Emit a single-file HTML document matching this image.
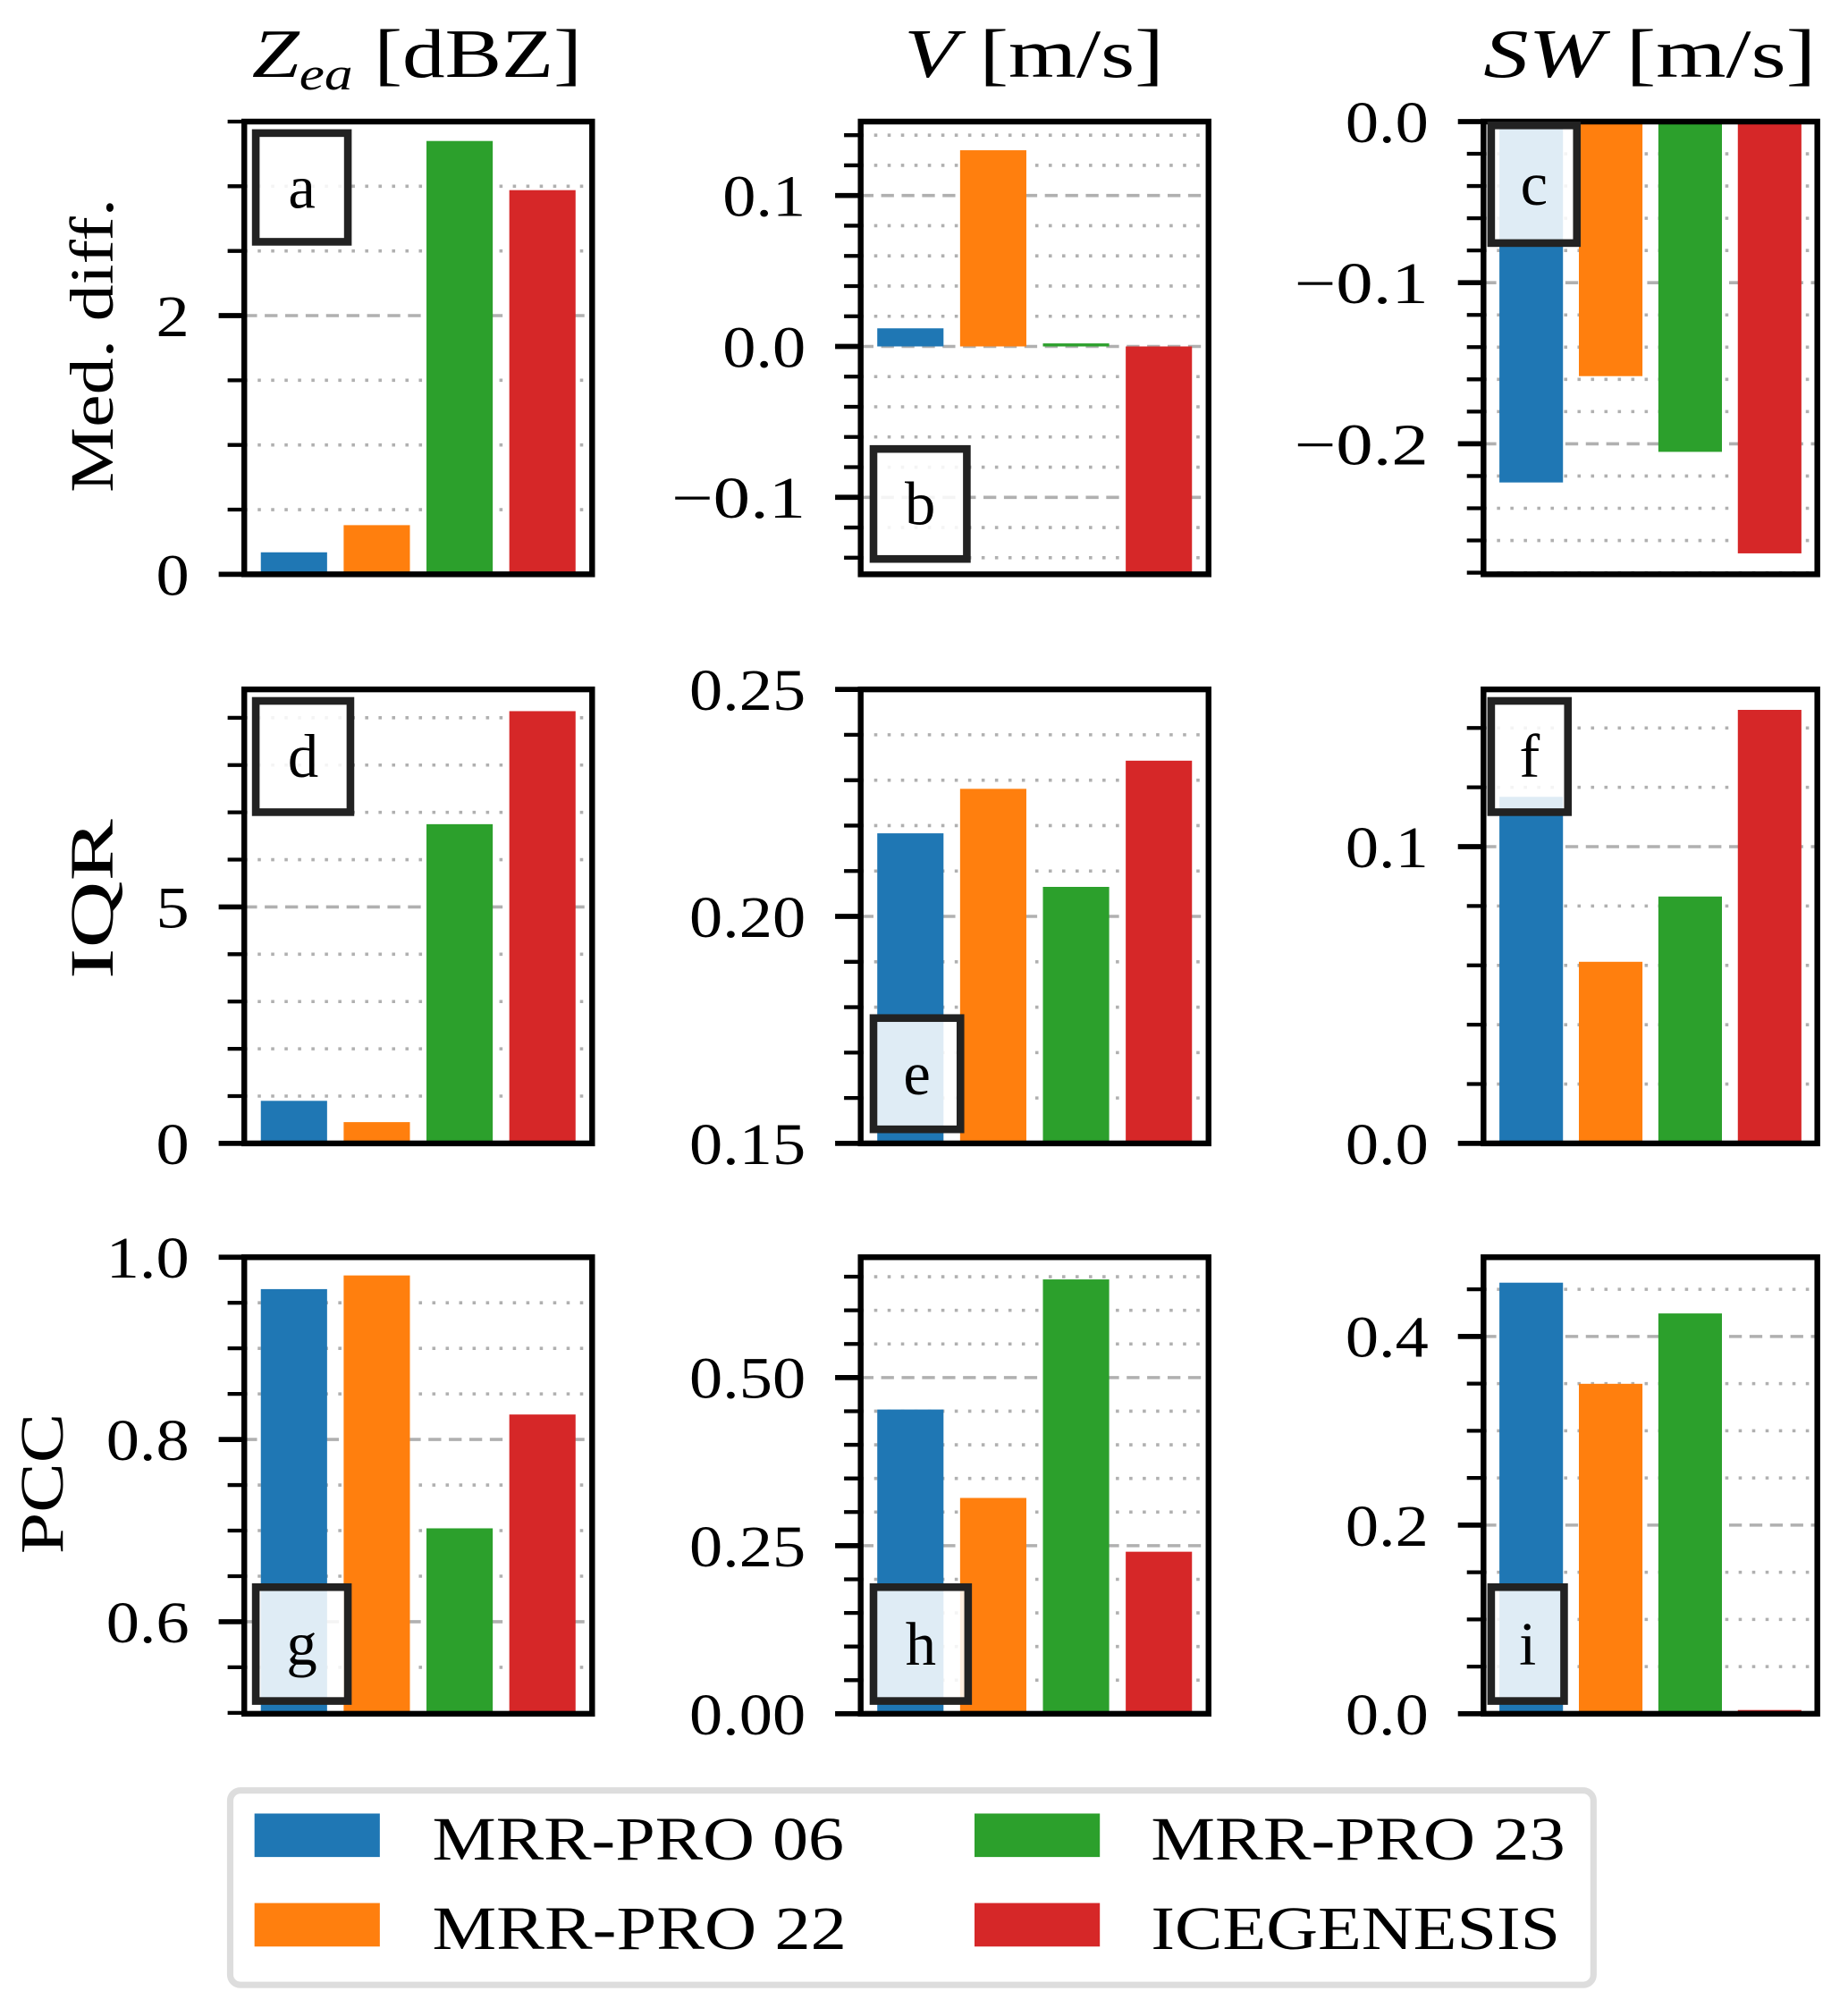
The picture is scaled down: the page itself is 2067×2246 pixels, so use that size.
<!DOCTYPE html>
<html><head><meta charset="utf-8"><style>
html,body{margin:0;padding:0;background:#fff}
svg{display:block}
text{font-family:"Liberation Serif","DejaVu Serif",serif;fill:#000}
</style></head><body>
<svg id="fig" width="2067" height="2246" viewBox="0 0 1445 1570" xmlns="http://www.w3.org/2000/svg">
<g>
<text x="197" y="60" font-size="54" textLength="258" lengthAdjust="spacingAndGlyphs"><tspan font-style="italic">Z</tspan><tspan font-style="italic" font-size="36" dy="10">ea</tspan><tspan dy="-10">  [dBZ]</tspan></text>
<text x="707" y="60" font-size="54" textLength="203" lengthAdjust="spacingAndGlyphs"><tspan font-style="italic">V</tspan>  [m/s]</text>
<text x="1160" y="60" font-size="54" textLength="260" lengthAdjust="spacingAndGlyphs"><tspan font-style="italic">SW</tspan>  [m/s]</text>
</g>
<text x="0" y="0" font-size="48" text-anchor="middle" textLength="230" lengthAdjust="spacingAndGlyphs" transform="translate(88,270) rotate(-90)">Med. diff.</text>
<text x="0" y="0" font-size="48" text-anchor="middle" textLength="125" lengthAdjust="spacingAndGlyphs" transform="translate(88,703) rotate(-90)">IQR</text>
<text x="0" y="0" font-size="48" text-anchor="middle" textLength="110" lengthAdjust="spacingAndGlyphs" transform="translate(49,1160) rotate(-90)">PCC</text>
<g id="panels"></g>
<g>
<rect x="180" y="1400" width="1066" height="152" rx="8" fill="#fff" stroke="#ddd" stroke-width="5"/>
<rect x="199" y="1418" width="98" height="34" fill="#1f77b4"/>
<text x="338" y="1454" font-size="48" textLength="322" lengthAdjust="spacingAndGlyphs">MRR-PRO 06</text>
<rect x="199" y="1488" width="98" height="34" fill="#ff7f0e"/>
<text x="338" y="1524" font-size="48" textLength="324" lengthAdjust="spacingAndGlyphs">MRR-PRO 22</text>
<rect x="762" y="1418" width="98" height="34" fill="#2ca02c"/>
<text x="900" y="1454" font-size="48" textLength="324" lengthAdjust="spacingAndGlyphs">MRR-PRO 23</text>
<rect x="762" y="1488" width="98" height="34" fill="#d62728"/>
<text x="900" y="1524" font-size="48" textLength="320" lengthAdjust="spacingAndGlyphs">ICEGENESIS</text>
</g>
</svg>
<script>
const categories = ["MRR-PRO 06", "MRR-PRO 22", "MRR-PRO 23", "ICEGENESIS"];
const colors = ["#1f77b4", "#ff7f0e", "#2ca02c", "#d62728"];
const panelLetters = ["a","b","c","d","e","f","g","h","i"];
const valsA = [0.17, 0.38, 3.35, 2.97];
const valsB = [0.012, 0.13, 0.002, -0.151];
const valsC = [-0.224, -0.158, -0.205, -0.268];
const valsD = [0.9, 0.45, 6.75, 9.14];
const valsE = [0.2183, 0.2281, 0.2065, 0.2343];
const valsF = [0.1168, 0.0612, 0.0832, 0.1461];
const valsG = [0.965, 0.980, 0.7025, 0.8274];
const valsH = [0.4525, 0.321, 0.646, 0.241];
const valsI = [0.457, 0.3498, 0.4244, 0.004];
const ylims = [[0,3.5],[-0.151,0.149],[-0.281,0],[0,9.6],[0.15,0.25],[0,0.153],[0.499,1.0],[0,0.679],[0,0.484]];
const majorSteps = [2,0.1,0.1,5,0.05,0.1,0.2,0.25,0.2];
const minorSteps = [0.5,0.02,0.02,1,0.01,0.02,0.05,0.05,0.05];
const tickDecimals = [0,1,1,0,2,1,1,2,1];
const allVals = [valsA,valsB,valsC,valsD,valsE,valsF,valsG,valsH,valsI];

const colX = [[191,463],[673,945],[1160,1421]];
const rowY = [[95,449],[539,894],[983,1340]];
const boxes = [[197,101,78,91],[680,348,79,92],[1163,95,73,98],[197,545,80,93],[680,793,74,93],[1163,545,66,93],[197,1238,78,95],[680,1238,80,95],[1163,1238,63,95]];
const NS="http://www.w3.org/2000/svg";
const root=document.getElementById('panels');
function mk(tag,attrs,parent){const e=document.createElementNS(NS,tag);for(const k in attrs)e.setAttribute(k,attrs[k]);parent.appendChild(e);return e;}
function fmt(v,d){let s=Math.abs(v).toFixed(d);return (v< -1e-9?"\u2212":"")+s;}
function labW(s){let w=0;for(const ch of s){w+= ch==='.'?13:(ch==='\u2212'?40:26);}return w;}

for(let p=0;p<9;p++){
  const c=p%3,r=Math.floor(p/3);
  const [x0,x1]=colX[c],[y0,y1]=rowY[r];
  const [lo,hi]=ylims[p];
  const yS=v=>y1-(v-lo)/(hi-lo)*(y1-y0);
  const step=(x1-x0)/4.2;
  const xS=i=>x0+(i+0.6)*step;
  const g=mk('g',{},root);
  
  
  const mn=minorSteps[p],mj=majorSteps[p];
  const kStart=Math.ceil(lo/mn-1e-6),kEnd=Math.floor(hi/mn+1e-6);
  for(let k=kStart;k<=kEnd;k++){
    const v=k*mn,y=yS(v);
    const isMajor=Math.abs(v/mj-Math.round(v/mj))<1e-6;
    const gl=mk('line',{x1:x0,x2:x1,y1:y,y2:y,stroke:'#b0b0b0','stroke-width':2.5,'stroke-dasharray':isMajor?'10,6':'2.5,8'},g);
    
    
    const tk=mk('line',{x1:x0-(isMajor?20:13),x2:x0,y1:y,y2:y,stroke:'#000','stroke-width':isMajor?4:3},g);
    
    
    if(isMajor){
      const s=fmt(v,tickDecimals[p]);
      const w=labW(s);
      const t=mk('text',{x:x0-43-w,y:y+16,'font-size':46,textLength:w,lengthAdjust:'spacingAndGlyphs'},g);
      t.textContent=s;
      
      
    }
  }
  const vals=allVals[p];
  const base=Math.max(lo,Math.min(hi,0));
  for(let i=0;i<4;i++){
    const v=Math.max(lo,Math.min(hi,vals[i]));
    const ya=yS(v),yb=yS(base);
    const b=mk('rect',{x:xS(i)-0.4*step,y:Math.min(ya,yb),width:0.8*step,height:Math.abs(yb-ya),fill:colors[i]},g);
    
    
  }
  const fr=mk('rect',{x:x0,y:y0,width:x1-x0,height:y1-y0,fill:'none',stroke:'#000','stroke-width':4.5},g);
  
  
  const bx=boxes[p];
  const lb=mk('rect',{x:bx[0]+3,y:bx[1]+3,width:bx[2]-6,height:bx[3]-6,fill:'rgba(255,255,255,0.86)',stroke:'#222','stroke-width':6},g);
  
  
  const lt=mk('text',{x:bx[0]+bx[2]/2,y:bx[1]+bx[3]/2+16,'font-size':48,'text-anchor':'middle'},g);
  lt.textContent=panelLetters[p];
  
  
}
</script>
</body></html>
